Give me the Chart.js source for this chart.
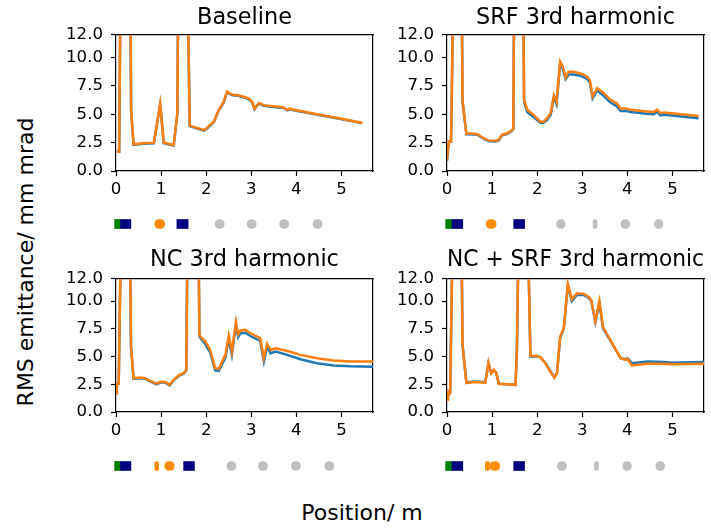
<!DOCTYPE html>
<html>
<head>
<meta charset="utf-8">
<script src="https://cdn.jsdelivr.net/npm/chart.js@4"></script>
<style>
  html, body { margin: 0; padding: 0; background: #fff; }
  #fig { position: relative; width: 711px; height: 529px; overflow: hidden; background: #fff; font-family: "DejaVu Sans", sans-serif; }
  canvas { position: absolute; }
  .lbl { position: absolute; font-family: "DejaVu Sans", sans-serif; font-size: 22px; line-height: 1; color: #000; white-space: nowrap; }
</style>
</head>
<body>
<div id="fig">
  <canvas id="c1" width="330" height="200" style="left:50px;top:0px"></canvas>
  <canvas id="c2" width="330" height="200" style="left:381px;top:0px"></canvas>
  <canvas id="c3" width="330" height="197" style="left:50px;top:244px"></canvas>
  <canvas id="c4" width="330" height="197" style="left:381px;top:244px"></canvas>
  <canvas id="e1" width="277" height="20" style="left:106px;top:214px"></canvas>
  <canvas id="e2" width="277" height="20" style="left:437px;top:214px"></canvas>
  <canvas id="e3" width="277" height="20" style="left:106px;top:456px"></canvas>
  <canvas id="e4" width="277" height="20" style="left:437px;top:456px"></canvas>
  <div class="lbl" id="ylab" style="left:26px;top:262px;transform:translate(-50%,-50%) rotate(-90deg)">RMS emittance/ mm mrad</div>
  <div class="lbl" id="xlab" style="left:362px;top:513px;transform:translate(-50%,-50%)">Position/ m</div>
</div>
<script>
// ---------- data ----------
const xTickValues = [0, 1, 2, 3, 4, 5];
const yTickValues = [0, 2.5, 5, 7.5, 10, 12];

const panelTitles = ["Baseline", "SRF 3rd harmonic", "NC 3rd harmonic", "NC + SRF 3rd harmonic"];

// Baseline
const baselineX      = [0.02,0.07,0.10,0.32,0.335,0.39,0.6,0.84,0.98,1.06,1.28,1.36,1.38,1.59,1.635,1.95,2.02,2.17,2.28,2.39,2.46,2.54,2.61,2.68,2.83,2.94,3.02,3.07,3.17,3.28,3.5,3.72,3.8,3.87,3.94,5.46];
const baselineBlue   = [1.7,1.7,16,16,5.3,2.3,2.4,2.45,5.85,2.45,2.25,5.0,16,16,3.95,3.55,3.75,4.3,5.35,6.05,6.95,6.75,6.65,6.65,6.5,6.35,6.05,5.45,5.95,5.75,5.65,5.55,5.35,5.45,5.35,4.22];
const baselineOrange = [1.7,1.7,16,16,5.4,2.35,2.45,2.5,5.9,2.5,2.3,5.1,16,16,4.0,3.6,3.8,4.35,5.4,6.1,7.0,6.8,6.7,6.7,6.55,6.4,6.1,5.5,6.0,5.8,5.7,5.6,5.4,5.5,5.4,4.26];

// SRF 3rd harmonic
const srfX      = [0.0,0.04,0.09,0.14,0.325,0.345,0.43,0.52,0.67,0.81,0.92,1.07,1.15,1.22,1.33,1.44,1.47,1.49,1.69,1.71,1.78,1.92,2.07,2.14,2.22,2.3,2.37,2.43,2.51,2.57,2.63,2.7,2.81,2.96,3.11,3.17,3.23,3.33,3.48,3.62,3.77,3.85,3.96,4.07,4.44,4.59,4.66,4.73,4.81,5.58];
const srfBlue   = [0.9,2.6,2.6,16,16,6.1,3.25,3.25,3.2,2.85,2.65,2.6,2.7,3.15,3.25,3.55,3.7,16,16,6.1,5.2,4.75,4.25,4.25,4.5,4.95,6.5,5.9,9.5,9.0,8.1,8.5,8.5,8.4,8.1,7.8,6.4,7.1,6.6,6.05,5.7,5.3,5.3,5.2,5.05,5.0,5.25,4.9,4.95,4.65];
const srfOrange = [1.0,2.6,2.6,16,16,6.2,3.3,3.3,3.25,2.9,2.7,2.65,2.75,3.2,3.3,3.6,3.75,16,16,6.3,5.4,4.95,4.35,4.35,4.65,5.1,6.7,6.1,9.65,9.2,8.25,8.75,8.75,8.6,8.3,8.0,6.55,7.3,6.85,6.3,5.95,5.5,5.5,5.4,5.25,5.2,5.4,5.1,5.15,4.85];

// NC 3rd harmonic
const ncX      = [0.0,0.02,0.06,0.11,0.31,0.333,0.39,0.54,0.65,0.76,0.9,0.98,1.09,1.19,1.28,1.39,1.5,1.56,1.585,1.83,1.85,1.98,2.09,2.2,2.28,2.43,2.5,2.57,2.66,2.71,2.76,2.87,2.98,3.2,3.28,3.35,3.43,3.54,3.8,4.09,4.46,4.83,5.2,5.7];
const ncBlue   = [1.7,2.55,2.55,16,16,5.8,3.0,3.05,3.0,2.75,2.5,2.65,2.65,2.4,2.85,3.25,3.45,3.75,16,16,6.8,6.1,5.35,3.75,3.7,4.95,6.6,5.15,7.9,6.75,7.1,7.15,6.85,6.4,4.55,5.85,5.3,5.45,5.15,4.75,4.4,4.2,4.12,4.08];
const ncOrange = [1.7,2.55,2.55,16,16,5.9,3.05,3.1,3.05,2.8,2.55,2.7,2.7,2.45,2.9,3.3,3.5,3.8,16,16,6.9,6.35,5.6,3.95,3.9,5.2,6.9,5.45,8.1,7.0,7.35,7.4,7.1,6.65,4.85,6.15,5.6,5.75,5.5,5.15,4.85,4.65,4.55,4.55];

// NC + SRF 3rd harmonic
const bothX      = [0,0.02,0.04,0.07,0.125,0.32,0.345,0.43,0.59,0.85,0.92,0.98,1.04,1.09,1.15,1.33,1.52,1.55,1.59,1.795,1.85,2.0,2.07,2.18,2.29,2.38,2.44,2.51,2.59,2.68,2.77,2.88,3.03,3.14,3.2,3.29,3.38,3.46,3.62,3.85,3.96,4.0,4.1,4.44,4.81,5.0,5.7];
const bothBlue   = [1.1,2.0,1.55,1.7,16,16,6.0,2.65,2.75,2.7,4.4,3.5,3.75,3.55,2.55,2.5,2.45,5.5,16,16,5.0,5.0,4.95,4.45,3.7,3.15,3.5,6.7,7.5,11.4,10.0,10.55,10.55,10.3,10.0,8.1,9.85,7.55,6.45,4.85,4.75,4.85,4.4,4.55,4.5,4.45,4.5];
const bothOrange = [1.1,2.0,1.55,1.7,16,16,6.05,2.6,2.7,2.65,4.45,3.5,3.8,3.55,2.55,2.5,2.45,5.6,16,16,5.05,5.05,4.95,4.4,3.65,3.1,3.5,6.8,7.55,11.55,10.15,10.7,10.65,10.4,10.1,8.2,10.0,7.65,6.5,4.85,4.7,4.8,4.2,4.35,4.35,4.3,4.35];

// Beamline elements (start / end in m, element kind)
const baselineElemStart = [-0.03,0.10,0.86,1.35,2.20,2.91,3.63,4.37];
const baselineElemEnd   = [0.10,0.33,1.08,1.60,2.40,3.11,3.83,4.57];
const baselineElemType  = ["gun","solenoid","cavity","solenoid","cryo","cryo","cryo","cryo"];

const srfElemStart = [-0.03,0.11,0.87,1.48,2.43,3.24,3.86,4.60];
const srfElemEnd   = [0.11,0.35,1.09,1.72,2.62,3.33,4.05,4.79];
const srfElemType  = ["gun","solenoid","cavity","solenoid","cryo","cryo","cryo","cryo"];

const ncElemStart = [-0.03,0.10,0.86,1.08,1.50,2.46,3.16,3.89,4.63];
const ncElemEnd   = [0.10,0.33,0.945,1.29,1.74,2.66,3.36,4.09,4.83];
const ncElemType  = ["gun","solenoid","cavity","cavity","solenoid","cryo","cryo","cryo","cryo"];

const bothElemStart = [-0.03,0.11,0.85,0.955,1.48,2.45,3.27,3.90,4.63];
const bothElemEnd   = [0.11,0.35,0.945,1.17,1.72,2.65,3.36,4.09,4.83];
const bothElemType  = ["gun","solenoid","cavity","cavity","solenoid","cryo","cryo","cryo","cryo"];

// ---------- styling ----------
const FONT = "DejaVu Sans";
const X_MIN = 0, X_MAX = 5.7, Y_MIN = 0, Y_MAX = 12;
const elemColor = { gun: "#008000", solenoid: "#000080", cavity: "#ff8c00", cryo: "#c0c0c0" };
const elemRound = { gun: 0, solenoid: 0, cavity: 6, cryo: 6 };

function pts(xs, ys) { return xs.map((x, i) => ({ x: x, y: ys[i] })); }

function makePanel(id, title, xs, blue, orange, titlePad) {
  const axisGrid = { drawOnChartArea: false, drawTicks: true, tickLength: 5, color: "#000", tickWidth: 1.2 };
  const border = { display: true, color: "#000", width: 1.2 };
  new Chart(document.getElementById(id), {
    type: "line",
    data: {
      datasets: [
        { data: pts(xs, blue), order: 1, borderColor: "#1f77b4", borderWidth: 2.5, pointRadius: 0, tension: 0, fill: false, xAxisID: "x", yAxisID: "y" },
        { data: pts(xs, orange), order: 0, borderColor: "#ff7f0e", borderWidth: 2.5, pointRadius: 0, tension: 0, fill: false, xAxisID: "x", yAxisID: "y" }
      ]
    },
    options: {
      animation: false, responsive: false, devicePixelRatio: 1,
      layout: { padding: { left: 0, right: 7, top: 0, bottom: 0 } },
      plugins: {
        legend: { display: false }, tooltip: { enabled: false },
        title: { display: true, text: title, fullSize: false, color: "#000",
                 font: { family: FONT, size: 22.4, weight: "normal" }, padding: titlePad }
      },
      scales: {
        x: { type: "linear", position: "bottom", min: X_MIN, max: X_MAX,
             afterBuildTicks: s => { s.ticks = xTickValues.map(v => ({ value: v })); },
             afterFit: s => { s.height = 29; },
             grid: axisGrid, border: border,
             ticks: { color: "#000", font: { family: FONT, size: 16.6 }, padding: 4, maxRotation: 0, autoSkip: false, callback: v => String(v) } },
        y: { type: "linear", position: "left", min: Y_MIN, max: Y_MAX,
             afterBuildTicks: s => { s.ticks = yTickValues.map(v => ({ value: v })); },
             afterFit: s => { s.width = 66; },
             grid: axisGrid, border: border,
             ticks: { color: "#000", font: { family: FONT, size: 16.6 }, padding: 8, autoSkip: false, callback: v => Number(v).toFixed(1) } },
        x2: { type: "linear", position: "top", min: X_MIN, max: X_MAX,
              grid: { drawOnChartArea: false, drawTicks: false }, ticks: { display: false }, border: border },
        y2: { type: "linear", position: "right", min: Y_MIN, max: Y_MAX,
              grid: { drawOnChartArea: false, drawTicks: false }, ticks: { display: false }, border: border }
      }
    }
  });
}

function makeElements(id, starts, ends, types) {
  new Chart(document.getElementById(id), {
    type: "bar",
    data: {
      labels: ["beamline"],
      datasets: [{
        data: starts.map((s, i) => ({ x: [s, ends[i]], y: "beamline" })),
        backgroundColor: types.map(t => elemColor[t]),
        borderWidth: 0,
        borderRadius: ctx => elemRound[types[ctx.dataIndex]],
        borderSkipped: false,
        barThickness: 9,
        grouped: false,
        clip: false
      }]
    },
    options: {
      indexAxis: "y", animation: false, responsive: false, devicePixelRatio: 1,
      layout: { padding: { left: 10, right: 10, top: 0, bottom: 0 } },
      plugins: { legend: { display: false }, tooltip: { enabled: false } },
      scales: {
        x: { type: "linear", min: X_MIN, max: X_MAX, display: false },
        y: { type: "category", display: false }
      }
    }
  });
}

makePanel("c1", panelTitles[0], baselineX, baselineBlue, baselineOrange, { top: 5, bottom: 3 });
makePanel("c2", panelTitles[1], srfX, srfBlue, srfOrange, { top: 5, bottom: 3 });
makePanel("c3", panelTitles[2], ncX, ncBlue, ncOrange, { top: 3, bottom: 5 });
makePanel("c4", panelTitles[3], bothX, bothBlue, bothOrange, { top: 3, bottom: 5 });

makeElements("e1", baselineElemStart, baselineElemEnd, baselineElemType);
makeElements("e2", srfElemStart, srfElemEnd, srfElemType);
makeElements("e3", ncElemStart, ncElemEnd, ncElemType);
makeElements("e4", bothElemStart, bothElemEnd, bothElemType);
</script>
</body>
</html>
